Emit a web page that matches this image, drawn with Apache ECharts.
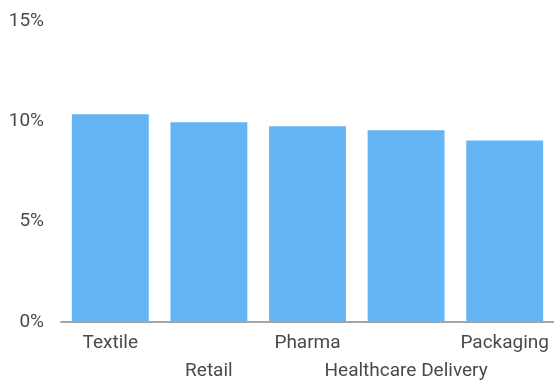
<!DOCTYPE html>
<html>
<head>
<meta charset="utf-8">
<script src="https://cdn.jsdelivr.net/npm/echarts@6/dist/echarts.min.js"></script>
<style>
  html, body { margin: 0; padding: 0; background: #fff; }
  #chart { width: 554px; height: 385px; }
</style>
</head>
<body>
<div id="chart"></div>
<script>
// Sector share, percent
const categories = ['Textile', 'Retail', 'Pharma', 'Healthcare Delivery', 'Packaging'];
const shareValues = [10.35, 9.95, 9.75, 9.55, 9.05];
const yTicks = [0, 5, 10, 15];

const chart = echarts.init(document.getElementById('chart'));
chart.setOption({
  animation: false,
  grid: { left: 61, right: 0, top: 21, bottom: 63 },
  xAxis: {
    type: 'category',
    data: categories,
    axisLine: { lineStyle: { color: '#888', width: 1.5 } },
    axisTick: { show: false },
    axisLabel: {
      interval: 0,
      color: '#4a4a4a',
      fontFamily: 'Roboto',
      fontSize: 19,
      lineHeight: 28,
      margin: 7,
      // stagger every other label onto a second row
      formatter: (v, i) => (i % 2 ? '\n' + v : v)
    }
  },
  yAxis: {
    type: 'value',
    min: yTicks[0],
    max: yTicks[yTicks.length - 1],
    interval: yTicks[1] - yTicks[0],
    axisLine: { show: false },
    axisTick: { show: false },
    splitLine: { show: false },
    axisLabel: {
      color: '#4a4a4a',
      fontFamily: 'Roboto',
      fontSize: 19,
      margin: 17,
      formatter: v => v + '%'
    }
  },
  series: [{
    type: 'bar',
    data: shareValues,
    barCategoryGap: '22%',
    itemStyle: { color: '#64b5f6' }
  }]
});
</script>
</body>
</html>
